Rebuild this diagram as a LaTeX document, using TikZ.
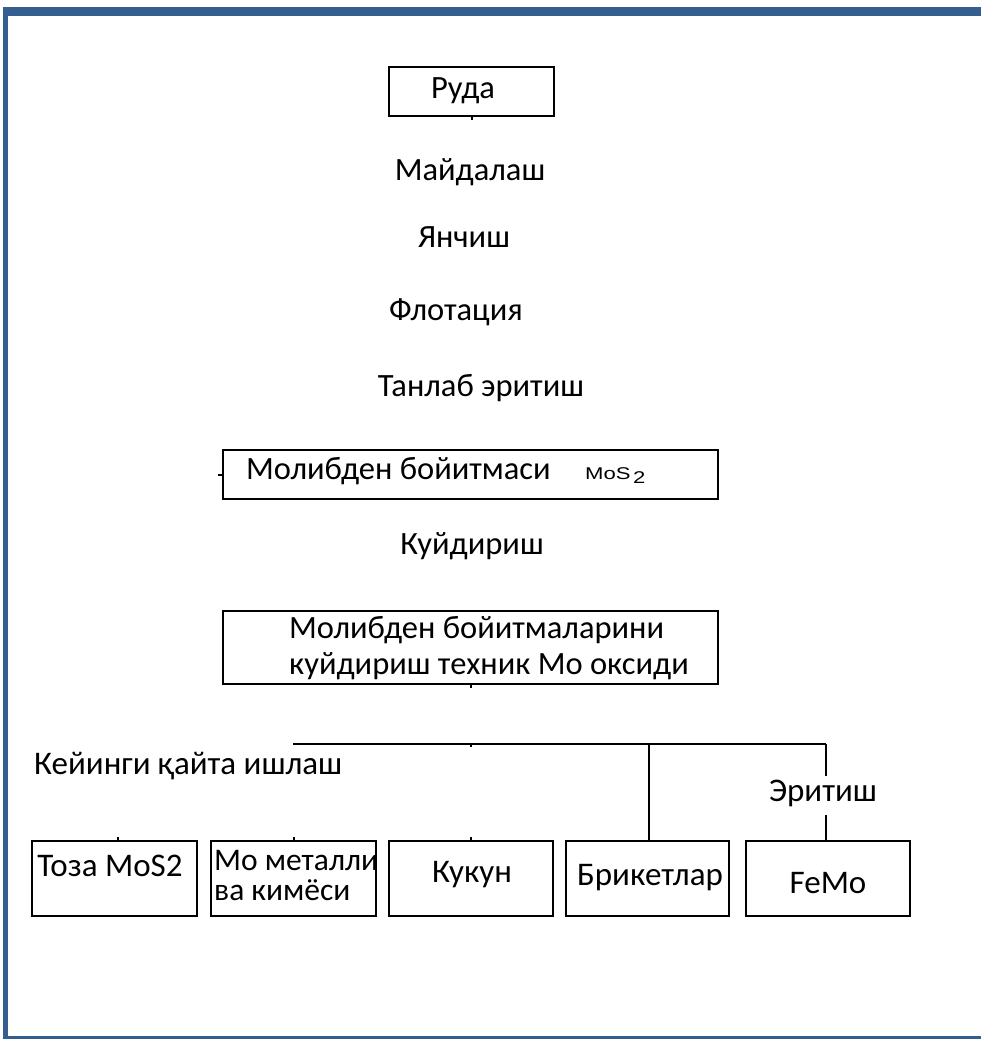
\documentclass[tikz,border=0pt]{standalone}
\usepackage{fontspec}
\setmainfont{Carlito}
\newfontfamily\arialf{Liberation Sans}
\definecolor{frameblue}{HTML}{335E8F}
\tikzset{
  box/.style={draw=black, line width=2pt, rectangle, inner sep=0pt},
  lbl/.style={font=\fontsize{32.5}{36}\selectfont, inner sep=0pt},
  sml/.style={font=\fontsize{33}{30}\selectfont, inner sep=0pt},
  conn/.style={draw=black, line width=1.8pt},
  tick/.style={draw=black, line width=2pt}
}
\begin{document}
\begin{tikzpicture}[x=1pt,y=-1pt]
\useasboundingbox (0,0) rectangle (981,1039);
% frame
\fill[frameblue] (3,7) rectangle (981,16);
\fill[frameblue] (3,7) rectangle (8,1039);
\fill[frameblue] (3,1036) rectangle (981,1039);
% top box
\node[box, minimum width=165pt, minimum height=49pt] (ruda) at (471.5,91.5) {};
\node[lbl] (rudat) at (463,91) {Руда};
\draw[tick] (ruda.south) -- ++(0,3);
% process labels
\node[lbl] (maid) at (470,172) {Майдалаш};
\node[lbl] (yanch) at (464,237) {Янчиш};
\node[lbl] (flot) at (456,312) {Флотация};
\node[lbl] (tanl) at (481,388) {Танлаб эритиш};
% box 2
\node[box, minimum width=495pt, minimum height=49pt] (mb) at (470.5,474.5) {};
\node[lbl, anchor=west] (mbt) at (246,471) {Молибден бойитмаси};
\node[inner sep=0pt, anchor=west] (mos) at (585,476) {\scalebox{1.3}[1]{\arialf\fontsize{17}{18}\selectfont MoS\kern2pt\raisebox{-4pt}{2}}};
\draw[tick] (mb.west) -- ++(-4,0);
\node[lbl] (kuy) at (472,546) {Куйдириш};
% box 3
\node[box, minimum width=495pt, minimum height=73pt] (ox) at (470.5,647.5) {};
\node[lbl, anchor=west, align=left] (oxt) at (289,648) {Молибден бойитмаларини\\куйдириш техник Мо оксиди};
\draw[tick] (ox.south) -- ++(0,3);
% bus
\coordinate (bl) at (293,744);
\coordinate (br) at (826,744);
\coordinate (bm) at (471,744);
\coordinate (bb) at (649,744);
\draw[conn] (bl) -- (br);
\draw[tick] (bm) -- ++(0,3);
\node[sml, anchor=west] (keyin) at (34,766) {Кейинги қайта ишлаш};
\node[sml] (erit) at (823,793) {Эритиш};
% bottom boxes
\node[box, minimum width=165pt, minimum height=75pt] (b1) at (114.5,878.5) {};
\node[box, minimum width=165pt, minimum height=75pt] (b2) at (293.5,878.5) {};
\node[box, minimum width=164pt, minimum height=75pt] (b3) at (471,878.5) {};
\node[box, minimum width=163pt, minimum height=75pt] (b4) at (647.5,878.5) {};
\node[box, minimum width=164pt, minimum height=75pt] (b5) at (828,878.5) {};
\node[sml] (b1t) at (110,866) {Тоза MoS2};
\node[sml, anchor=west, align=left, font=\fontsize{31.5}{30}\selectfont] (b2t) at (214,875) {Мо металли\\ва кимёси};
\node[sml] (b3t) at (472,875) {Кукун};
\node[sml] (b4t) at (650,878) {Брикетлар};
\node[sml] (b5t) at (828,883) {FeMo};
\draw[tick] (b1.north -| 118,0) -- ++(0,-3);
\draw[tick] (b2.north) -- ++(0,-3);
\draw[tick] (b3.north) -- ++(0,-3);
\draw[conn] (bb) -- (bb |- b4.north);
\draw[conn] (br) -- (br |- 0,776);
\draw[conn] (br |- 0,815) -- (br |- b5.north);
\end{tikzpicture}
\end{document}
